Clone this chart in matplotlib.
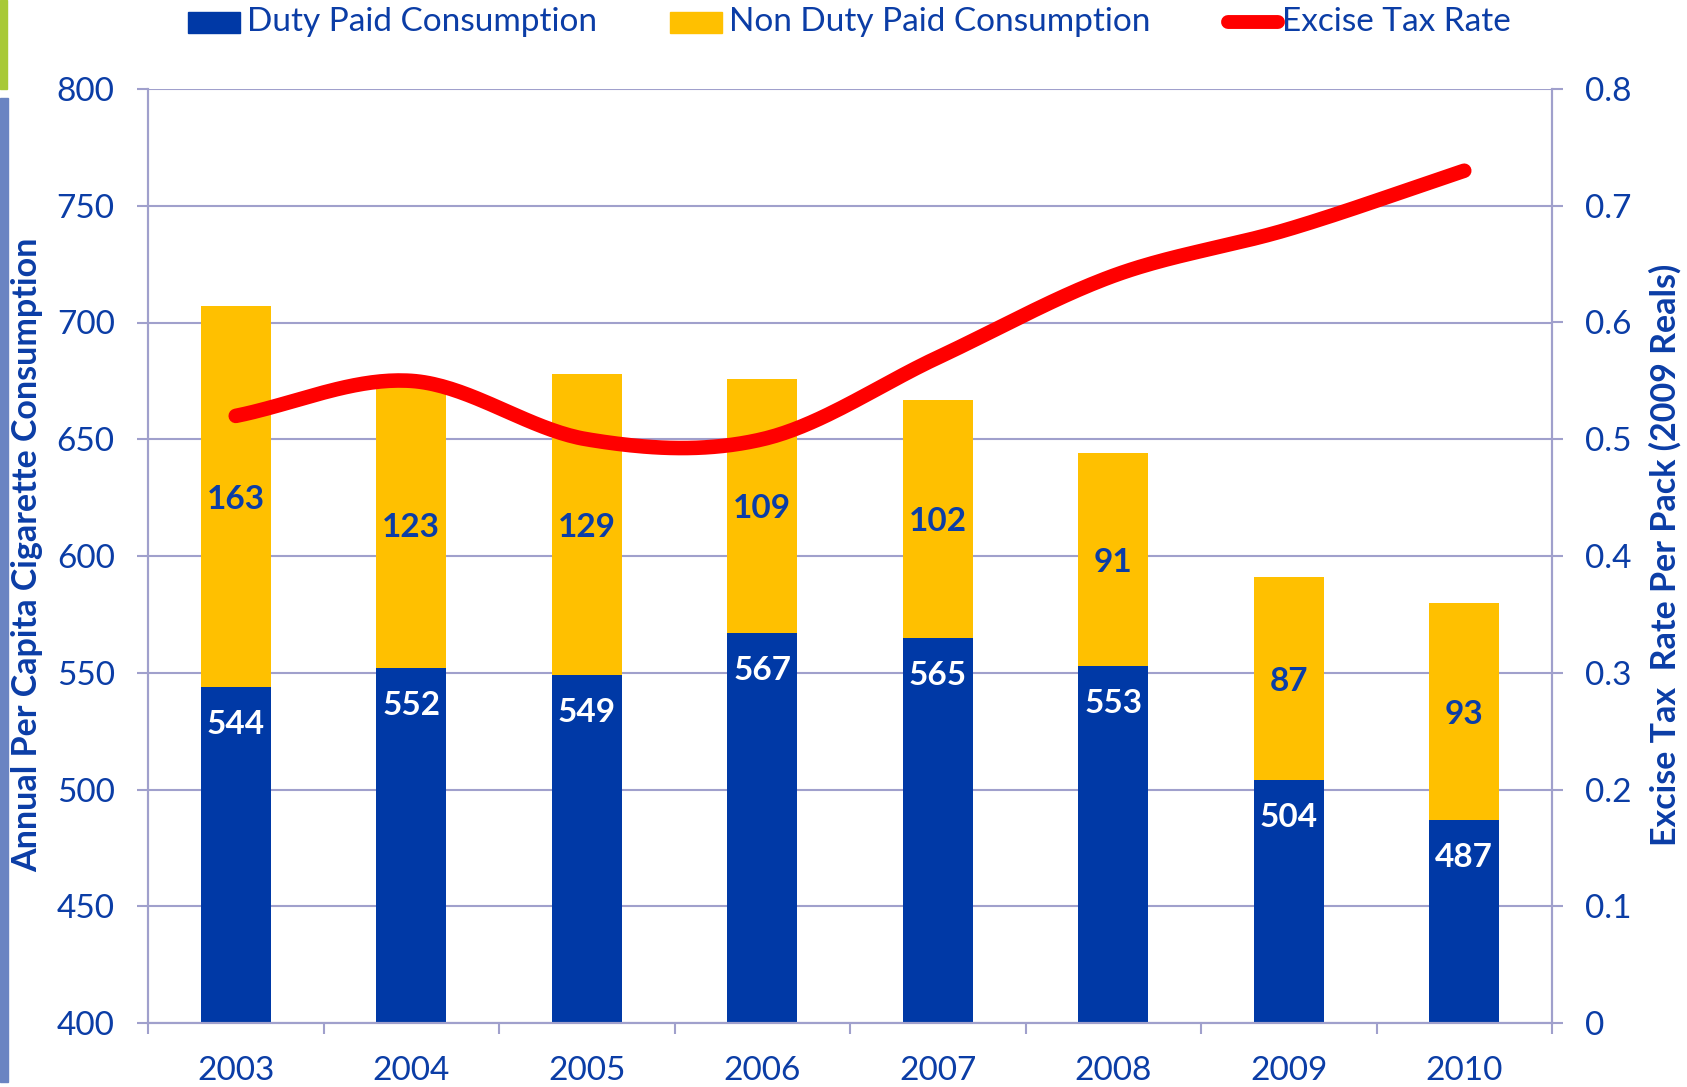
import numpy as np
import matplotlib
matplotlib.use("Agg")
import matplotlib.pyplot as plt
from matplotlib.patches import Rectangle
from matplotlib.lines import Line2D

years = ["2003", "2004", "2005", "2006", "2007", "2008", "2009", "2010"]
duty_paid = [544, 552, 549, 567, 565, 553, 504, 487]
non_duty_paid = [163, 123, 129, 109, 102, 91, 87, 93]
excise_rate = [0.52, 0.55, 0.50, 0.50, 0.57, 0.64, 0.68, 0.73]

BLUE = "#0039A6"
GOLD = "#FFC000"
RED = "#FF0000"
TXT = "#0B3DA6"
GRID = "#A0A0CC"
FONT = ["Lato", "DejaVu Sans"]

plt.rcParams["font.family"] = FONT

W, H = 1687, 1087
fig = plt.figure(figsize=(W / 100, H / 100), dpi=100)
ax = fig.add_axes([148 / W, 1 - 1023 / H, (1552 - 148) / W, (1023 - 89) / H])
ax2 = ax.twinx()

x = np.arange(len(years))
bw = 0.4
ax.bar(x, duty_paid, width=bw, color=BLUE, bottom=0, zorder=2)
ax.bar(x, non_duty_paid, width=bw, bottom=duty_paid, color=GOLD, zorder=2)
ax.set_ylim(400, 800)
ax.set_xlim(-0.5, len(years) - 0.5)

for xi, d, n in zip(x, duty_paid, non_duty_paid):
    ax.annotate(str(d), (xi, d), xytext=(0, -27), textcoords="offset points",
                ha="center", va="center", color="white", fontsize=24,
                fontweight="bold", zorder=5)
    ax.annotate(str(n), (xi, d + n / 2), xytext=(0, -2), textcoords="offset points",
                ha="center", va="center", color=TXT,
                fontsize=24, fontweight="bold", zorder=5)

# smoothed line (Catmull-Rom through data points)
pts = np.column_stack([x, excise_rate]).astype(float)
ext = np.vstack([pts[0] - (pts[1] - pts[0]), pts, pts[-1] + (pts[-1] - pts[-2])])
curve = []
for i in range(1, len(ext) - 2):
    p0, p1, p2, p3 = ext[i - 1], ext[i], ext[i + 1], ext[i + 2]
    for t in np.linspace(0, 1, 40, endpoint=False):
        t2, t3 = t * t, t * t * t
        c = 0.5 * ((2 * p1) + (-p0 + p2) * t + (2 * p0 - 5 * p1 + 4 * p2 - p3) * t2
                   + (-p0 + 3 * p1 - 3 * p2 + p3) * t3)
        curve.append(c)
curve.append(pts[-1])
curve = np.array(curve)
ax2.plot(curve[:, 0], curve[:, 1], color=RED, lw=10.5, solid_capstyle="round",
         solid_joinstyle="round", zorder=4)
ax2.set_ylim(0, 0.8)
ax2.set_zorder(ax.get_zorder() + 1)
ax2.patch.set_visible(False)

# grid & spines
ax.set_yticks(np.arange(400, 801, 50))
ax.yaxis.grid(True, color=GRID, lw=1.5, zorder=0)
ax.set_axisbelow(True)
ax2.set_yticks(np.arange(0, 0.81, 0.1))
ax2.set_yticklabels(["0"] + [f"{v:.1f}" for v in np.arange(0.1, 0.81, 0.1)])
for a in (ax, ax2):
    for s in a.spines.values():
        s.set_color(GRID)
        s.set_linewidth(1.5)
    a.spines["top"].set_visible(False)
ax.set_xticks(x)
ax.set_xticklabels(years)
ax.set_xticks(np.arange(-0.5, len(years), 1.0), minor=True)
ax.tick_params(axis="x", which="major", length=0, pad=24, labelsize=24, labelcolor=TXT)
ax.tick_params(axis="x", which="minor", length=8, width=1.5, color=GRID)
ax.tick_params(axis="y", length=8, width=1.5, color=GRID, pad=16, labelsize=24, labelcolor=TXT)
ax2.tick_params(axis="y", length=8, width=1.5, color=GRID, pad=16, labelsize=24, labelcolor=TXT)

fig.text(27 / W, 1 - 555 / H, "Annual Per Capita Cigarette Consumption", rotation=90,
         ha="center", va="center", color=TXT, fontsize=24.5, fontweight="bold")
fig.text(1665 / W, 1 - 555 / H, "Excise Tax  Rate Per Pack (2009 Reals)", rotation=90,
         ha="center", va="center", color=TXT, fontsize=24.5, fontweight="bold")

# legend
ly = 1 - 22 / H
fig.patches.append(Rectangle((188 / W, 1 - 33 / H), 52 / W, 21 / H, color=BLUE,
                             transform=fig.transFigure, figure=fig))
fig.text(247 / W, ly, "Duty Paid Consumption", ha="left", va="center", color=TXT, fontsize=24)
fig.patches.append(Rectangle((670 / W, 1 - 33 / H), 52 / W, 21 / H, color=GOLD,
                             transform=fig.transFigure, figure=fig))
fig.text(729 / W, ly, "Non Duty Paid Consumption", ha="left", va="center", color=TXT, fontsize=24)
fig.lines.append(Line2D([1228 / W, 1278 / W], [ly, ly], color=RED, lw=10,
                        solid_capstyle="round", transform=fig.transFigure, figure=fig))
fig.text(1282 / W, ly, "Excise Tax Rate", ha="left", va="center", color=TXT, fontsize=24)

# left edge decorations
fig.patches.append(Rectangle((0, 1 - 89 / H), 7 / W, 89 / H, color="#A8C936",
                             transform=fig.transFigure, figure=fig))
fig.patches.append(Rectangle((0, 1 - 1082 / H), 8 / W, (1082 - 98) / H, color="#6A84C2",
                             transform=fig.transFigure, figure=fig))

fig.savefig("out.png", dpi=100)
